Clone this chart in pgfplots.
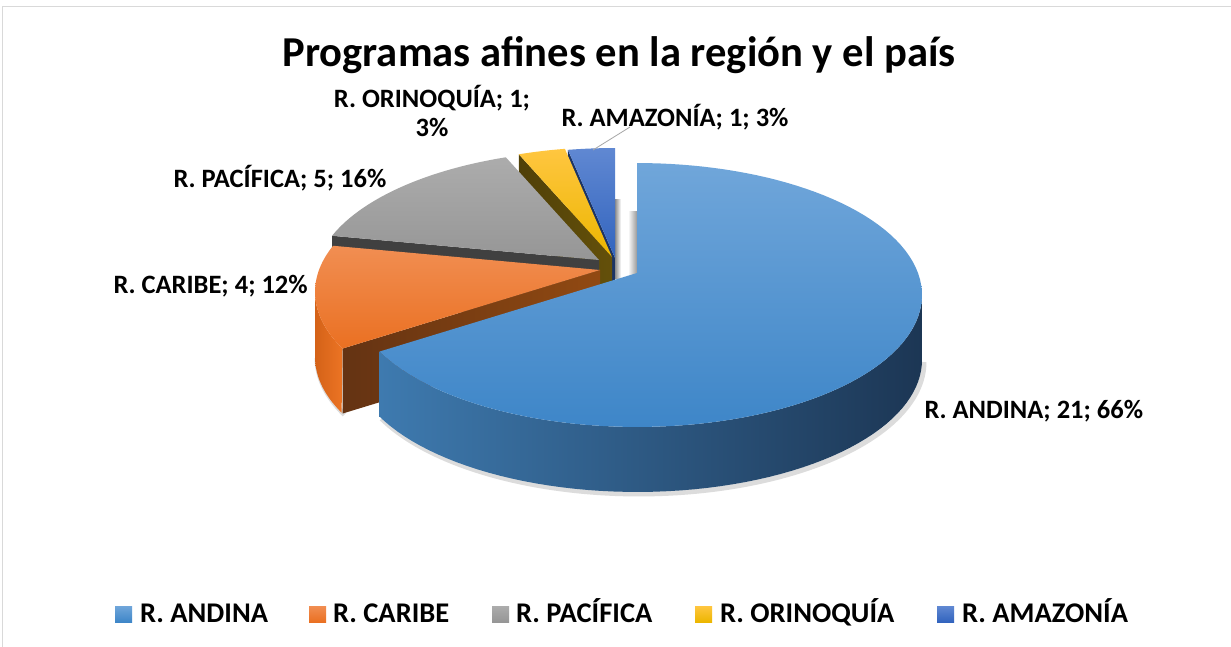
\documentclass[border=0pt]{standalone}
\usepackage{fontspec}
\setmainfont{Carlito}
\usepackage{pgfplots}
\pgfplotsset{compat=1.18}
% colours
\definecolor{andT}{RGB}{112,166,218}\definecolor{andB}{RGB}{62,134,200}
\definecolor{andSL}{RGB}{62,122,175}\definecolor{andSM}{RGB}{42,80,120}\definecolor{andSR}{RGB}{28,54,84}
\definecolor{carT}{RGB}{241,142,82}\definecolor{carB}{RGB}{234,112,34}
\definecolor{carSL}{RGB}{212,98,24}\definecolor{carSR}{RGB}{236,116,36}
\definecolor{carR}{RGB}{118,60,22}
\definecolor{pacT}{RGB}{172,172,172}\definecolor{pacB}{RGB}{150,150,150}\definecolor{pacR}{RGB}{64,64,64}
\definecolor{oriT}{RGB}{255,198,64}\definecolor{oriB}{RGB}{236,182,0}\definecolor{oriR}{RGB}{100,80,10}
\definecolor{amaT}{RGB}{96,136,210}\definecolor{amaB}{RGB}{50,100,190}\definecolor{amaR}{RGB}{28,52,100}
\definecolor{frame}{RGB}{217,217,217}
% pie pieces: #1,#2 apex (image px), angles in degrees
\newcommand{\wedgetop}[5]{%
  \addplot[draw=none,#5,domain=#3:#4,samples=90]
    ({#1+ex(x)},{#2-ey(x)}) -- (axis cs:#1,#2) -- cycle;}
\newcommand{\wedgeside}[5]{%
  \addplot[draw=none,#5,domain=0:2,samples=121]
    ({#1+ex((#3)+((#4)-(#3))*min(x,2-x))},{#2-ey((#3)+((#4)-(#3))*min(x,2-x))+65*(x>1)}) -- cycle;}
\newcommand{\wedgeradial}[4]{%
  \addplot[draw=none,#4,samples at={0,1,2,3}]
    ({#1+ex(#3)*(x>0.5)*(x<2.5)},{#2-ey(#3)*(x>0.5)*(x<2.5)+65*(x>1.5)}) -- cycle;}
\begin{document}%
\begin{tikzpicture}%
% data: R. ANDINA 21, R. CARIBE 4, R. PACIFICA 5, R. ORINOQUIA 1, R. AMAZONIA 1
\def\vA{21}\def\vB{4}\def\vC{5}\def\vD{1}\def\vE{1}%
\pgfmathsetmacro\tot{\vA+\vB+\vC+\vD+\vE}%
\pgfmathsetmacro\aA{90-360*\vA/\tot}%
\pgfmathsetmacro\aB{\aA-360*\vB/\tot}%
\pgfmathsetmacro\aC{\aB-360*\vC/\tot}%
\pgfmathsetmacro\aD{\aC-360*\vD/\tot}%
\pgfmathsetmacro\aE{\aD-360*\vE/\tot}%
\pgfmathsetmacro\sR{-asin(0.1667)}%
\pgfmathsetmacro\sL{-180-\sR}%
\fill[white] (0,0) rectangle (1231pt,647pt);
\useasboundingbox (0,0) rectangle (1231pt,647pt);
\begin{axis}[at={(0,0)},anchor=south west,width=1231pt,height=647pt,scale only axis,
  xmin=0,xmax=1231,ymin=0,ymax=647,y dir=reverse,hide axis,clip=false,
  declare function={ex(\t)=281*cos(\t)/(1+0.1667*sin(\t));
                    ey(\t)=128.3*sin(\t)/(1+0.1667*sin(\t));}]
% frame
\addplot[frame,line width=1pt] coordinates {(2,647) (2,7) (1231,7)};
% R. AMAZONIA
\wedgeradial{615}{258}{\aD}{fill=amaR}
\addplot[draw=none,left color=black!45,right color=white] coordinates {(615,200) (621,200) (621,278) (615,278)} -- cycle;
\wedgetop{615}{258}{\aE}{\aD}{top color=amaT,bottom color=amaB}
% R. ORINOQUIA
\wedgeradial{612}{257}{\aC}{left color=oriR!80!black,right color=oriR}
\wedgetop{612}{257}{\aD}{\aC}{top color=oriT,bottom color=oriB}
% R. PACIFICA
\wedgeradial{599}{260}{\aB}{fill=pacR}
\wedgetop{599}{260}{\aC}{\aB}{top color=pacT,bottom color=pacB}
% R. CARIBE
\addplot[draw=black!30,line width=5pt,opacity=0.45,domain=\sL:\aA,samples=30] ({600+ex(x)+2},{270-ey(x)+66});
\wedgeside{600}{270}{\sL}{\aA}{left color=carSL,right color=carSR}
\wedgeradial{600}{270}{\aA}{left color=carR!85!black,right color=carR!80!orange}
\wedgetop{600}{270}{\aB}{\aA}{top color=carT,bottom color=carB}
% shadow beside the R. ANDINA edge
\addplot[draw=none,left color=white,right color=black!40] coordinates {(628,212) (637,212) (637,282) (628,282)} -- cycle;
% R. ANDINA
\addplot[draw=black!30,line width=5pt,opacity=0.45,domain=\aA:\sR,samples=90] ({637+ex(x)+2},{273-ey(x)+67});
\wedgeside{637}{273}{\aA}{\sR}{left color=andSL,middle color=andSM,right color=andSR}
\wedgetop{637}{273}{\aA}{90}{top color=andT,bottom color=andB}
% leader line
\addplot[color=black!35,line width=0.8pt] coordinates {(593,150) (630,127)};
% title
\node[anchor=base,font=\bfseries\fontsize{42.6}{50}\selectfont] at (axis cs:619,67) {Programas afines en la región y el país};
% data labels
\begin{scope}[every node/.style={font=\bfseries\fontsize{26.5}{30}\selectfont}]
\node[anchor=base west] at (axis cs:921,418) {R. ANDINA; 21; 66\%};
\node[anchor=base west] at (axis cs:110,293) {R. CARIBE; 4; 12\%};
\node[anchor=base west] at (axis cs:170,188) {R. PACÍFICA; 5; 16\%};
\node[anchor=base] at (axis cs:432,108) {R. ORINOQUÍA; 1;};
\node[anchor=base] at (axis cs:432,137) {3\%};
\node[anchor=base west] at (axis cs:558,127) {R. AMAZONÍA; 1; 3\%};
\end{scope}
% legend
\begin{scope}[every node/.style={font=\bfseries\fontsize{28.5}{34}\selectfont,anchor=base west,inner sep=0pt}]
\fill[top color=andT,bottom color=andB] (axis cs:115,606) rectangle (axis cs:132,622);
\node at (axis cs:140,622) {R. ANDINA};
\fill[top color=carT,bottom color=carB] (axis cs:309,606) rectangle (axis cs:326,622);
\node at (axis cs:333,622) {R. CARIBE};
\fill[top color=pacT,bottom color=pacB] (axis cs:492,606) rectangle (axis cs:509,622);
\node at (axis cs:516,622) {R. PACÍFICA};
\fill[top color=oriT,bottom color=oriB] (axis cs:695,606) rectangle (axis cs:712,622);
\node at (axis cs:720,622) {R. ORINOQUÍA};
\fill[top color=amaT,bottom color=amaB] (axis cs:937,606) rectangle (axis cs:954,622);
\node at (axis cs:962,622) {R. AMAZONÍA};
\end{scope}
\end{axis}
\end{tikzpicture}%
\end{document}
